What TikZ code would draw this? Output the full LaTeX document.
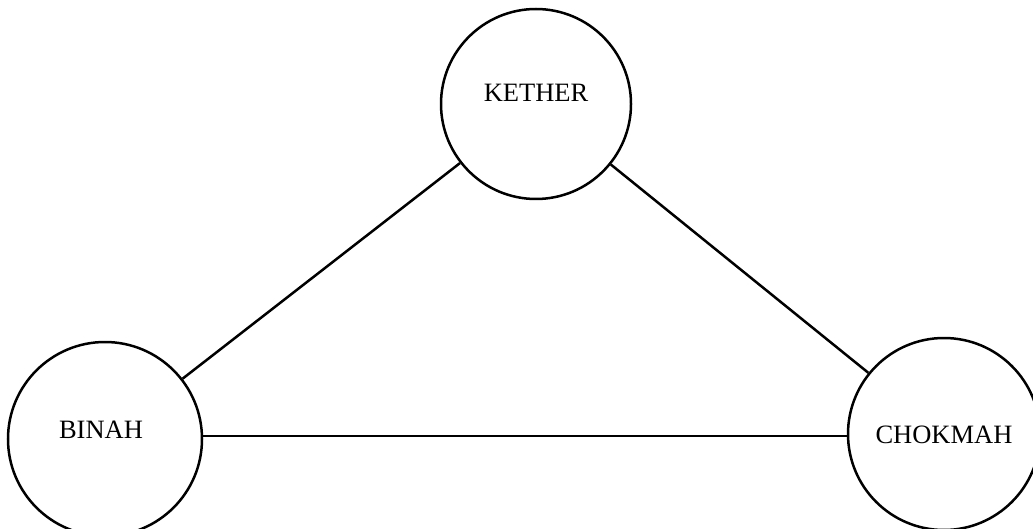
\documentclass[tikz,border=0pt]{standalone}
\usepackage{fontspec}
\setmainfont{Liberation Serif}
\begin{document}
\begin{tikzpicture}[x=1pt,y=1pt,
  sephira/.style={circle,draw,line width=2.5pt,inner sep=0pt},
  lab/.style={font=\fontsize{26.5}{30}\selectfont,inner sep=0pt,anchor=center},
  path/.style={line width=2.5pt}]
\useasboundingbox (0,0) rectangle (1033,-529);
\node[sephira,minimum size=190pt] (kether) at (536,-104) {};
\node[sephira,minimum size=194pt] (binah) at (105,-439) {};
\node[sephira,minimum size=192pt] (chokmah) at (944,-434) {};
\node[lab] (ktext) at (536,-93) {KETHER};
\node[lab] (btext) at (101,-430) {BINAH};
\node[lab] (ctext) at (944,-435) {CHOKMAH};
\draw[path] (kether) -- (binah);
\draw[path] (kether) -- (chokmah);
\draw[path] (binah.east |- 0,-436) -- (chokmah.west |- 0,-436);
\end{tikzpicture}
\end{document}
